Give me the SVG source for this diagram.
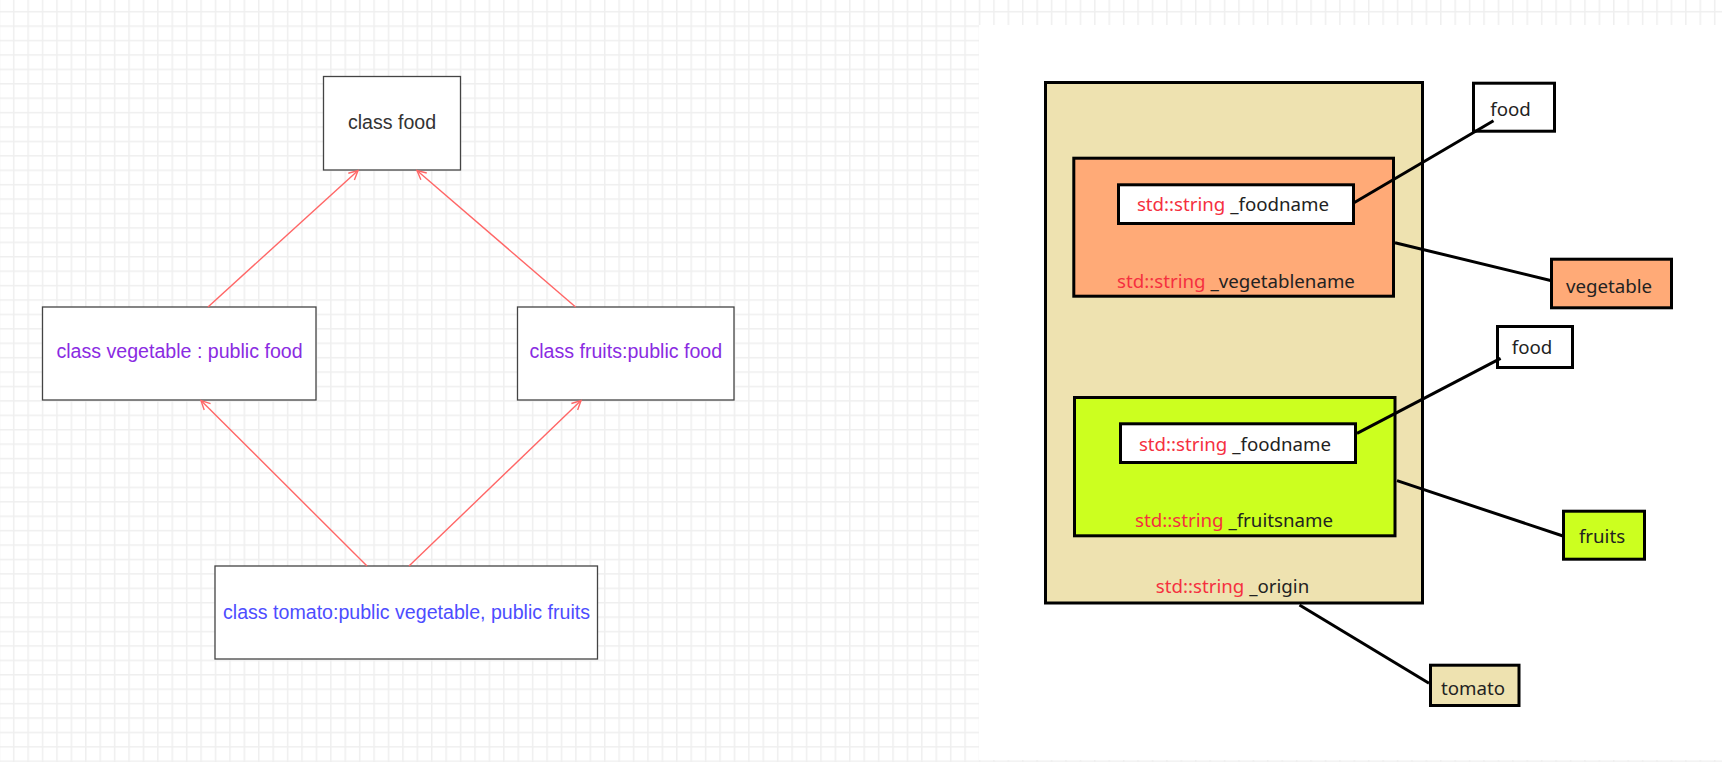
<svg xmlns="http://www.w3.org/2000/svg" width="1722" height="762" viewBox="0 0 1722 762">
<defs>
<pattern id="grid" patternUnits="userSpaceOnUse" x="12.95" y="10.95" width="14.415" height="14.415">
<rect x="0" y="0" width="1.5" height="14.415" fill="#efefef"/>
<rect x="0" y="0" width="14.415" height="1.5" fill="#efefef"/>
</pattern>
<marker id="open" markerUnits="userSpaceOnUse" viewBox="0 0 12 12" refX="10.5" refY="6" markerWidth="12" markerHeight="12" orient="auto">
<path d="M1.5,1.5 L10.5,6 L1.5,10.5" fill="none" stroke="#ff6666" stroke-width="1.4"/>
</marker>
<style>
.cls{fill:#ffffff;stroke:#444444;stroke-width:1.3}
.lt{font-family:"Liberation Sans",Arial,sans-serif;font-size:19.6px;text-anchor:middle}
.inh{stroke:#ff6666;stroke-width:1.4;fill:none}
.bx{stroke:#000000;stroke-width:3}
.rt{font-family:"Noto Sans","Open Sans",sans-serif;font-size:18.7px;text-anchor:middle;fill:#222222}
.red{fill:#f5303f}
.ln{stroke:#000000;stroke-width:3;fill:none}
</style>
</defs>
<rect x="0" y="0" width="1722" height="762" fill="#ffffff"/>
<rect x="0" y="0" width="1722" height="762" fill="url(#grid)"/>
<rect x="979" y="25" width="743" height="735" fill="#ffffff"/>

<g id="class-food"><rect class="cls" x="323.5" y="76.5" width="137" height="93.5"/><text class="lt" x="392" y="128.5" fill="#333333">class food</text></g>
<g id="class-vegetable"><rect class="cls" x="42.5" y="307" width="273.5" height="93"/><text class="lt" x="179.5" y="357.5" fill="#8a2be2">class vegetable : public food</text></g>
<g id="class-fruits"><rect class="cls" x="517.5" y="307" width="216.5" height="93"/><text class="lt" x="625.8" y="357.5" fill="#8a2be2">class fruits:public food</text></g>
<g id="class-tomato"><rect class="cls" x="215" y="566" width="382.5" height="93"/><text class="lt" x="406.5" y="618.5" fill="#4d4dff">class tomato:public vegetable, public fruits</text></g>

<g id="tomato-object"><rect class="bx" x="1045.5" y="82.5" width="377" height="520.5" fill="#eee2b0"/><text class="rt" x="1232.5" y="593"><tspan class="red">std::string</tspan> _origin</text></g>
<g id="vegetable-object"><rect class="bx" x="1073.8" y="158.2" width="319.7" height="138" fill="#ffaa77"/><text class="rt" x="1236" y="288"><tspan class="red">std::string</tspan> _vegetablename</text></g>
<g id="veg-foodname"><rect class="bx" x="1118.5" y="184.8" width="235" height="38.7" fill="#ffffff"/><text class="rt" x="1233" y="211"><tspan class="red">std::string</tspan> _foodname</text></g>
<g id="fruits-object"><rect class="bx" x="1074.5" y="397.5" width="320.5" height="138.3" fill="#ccff1f"/><text class="rt" x="1234" y="527"><tspan class="red">std::string</tspan> _fruitsname</text></g>
<g id="fruit-foodname"><rect class="bx" x="1120.5" y="423.8" width="235" height="38.7" fill="#ffffff"/><text class="rt" x="1235" y="451"><tspan class="red">std::string</tspan> _foodname</text></g>
<g id="label-food-1"><rect class="bx" x="1473.5" y="83.2" width="81" height="48" fill="#ffffff"/><text class="rt" x="1510.5" y="116">food</text></g>
<g id="label-vegetable"><rect class="bx" x="1551.5" y="259.2" width="120" height="48.6" fill="#ffaa77"/><text class="rt" x="1609" y="293">vegetable</text></g>
<g id="label-food-2"><rect class="bx" x="1497.5" y="326.5" width="75" height="41" fill="#ffffff"/><text class="rt" x="1532" y="354">food</text></g>
<g id="label-fruits"><rect class="bx" x="1563.5" y="511.2" width="81" height="48" fill="#ccff1f"/><text class="rt" x="1602" y="543">fruits</text></g>
<g id="label-tomato"><rect class="bx" x="1430.5" y="665.2" width="88.5" height="40.3" fill="#eee2b0"/><text class="rt" x="1473" y="695">tomato</text></g>

<g id="connectors">
<line class="inh" x1="208" y1="307" x2="358" y2="170.5" marker-end="url(#open)"/>
<line class="inh" x1="575.6" y1="307" x2="417" y2="170.5" marker-end="url(#open)"/>
<line class="inh" x1="367" y1="566" x2="201" y2="400.5" marker-end="url(#open)"/>
<line class="inh" x1="409" y1="566" x2="581" y2="400.5" marker-end="url(#open)"/>
<line class="ln" x1="1354" y1="202.7" x2="1493.5" y2="120.7"/>
<line class="ln" x1="1395" y1="242.7" x2="1552.6" y2="281"/>
<line class="ln" x1="1357" y1="433.3" x2="1500.6" y2="358.3"/>
<line class="ln" x1="1397" y1="480.7" x2="1563" y2="536"/>
<line class="ln" x1="1299.5" y1="605" x2="1429" y2="683.3"/>
</g>
</svg>
